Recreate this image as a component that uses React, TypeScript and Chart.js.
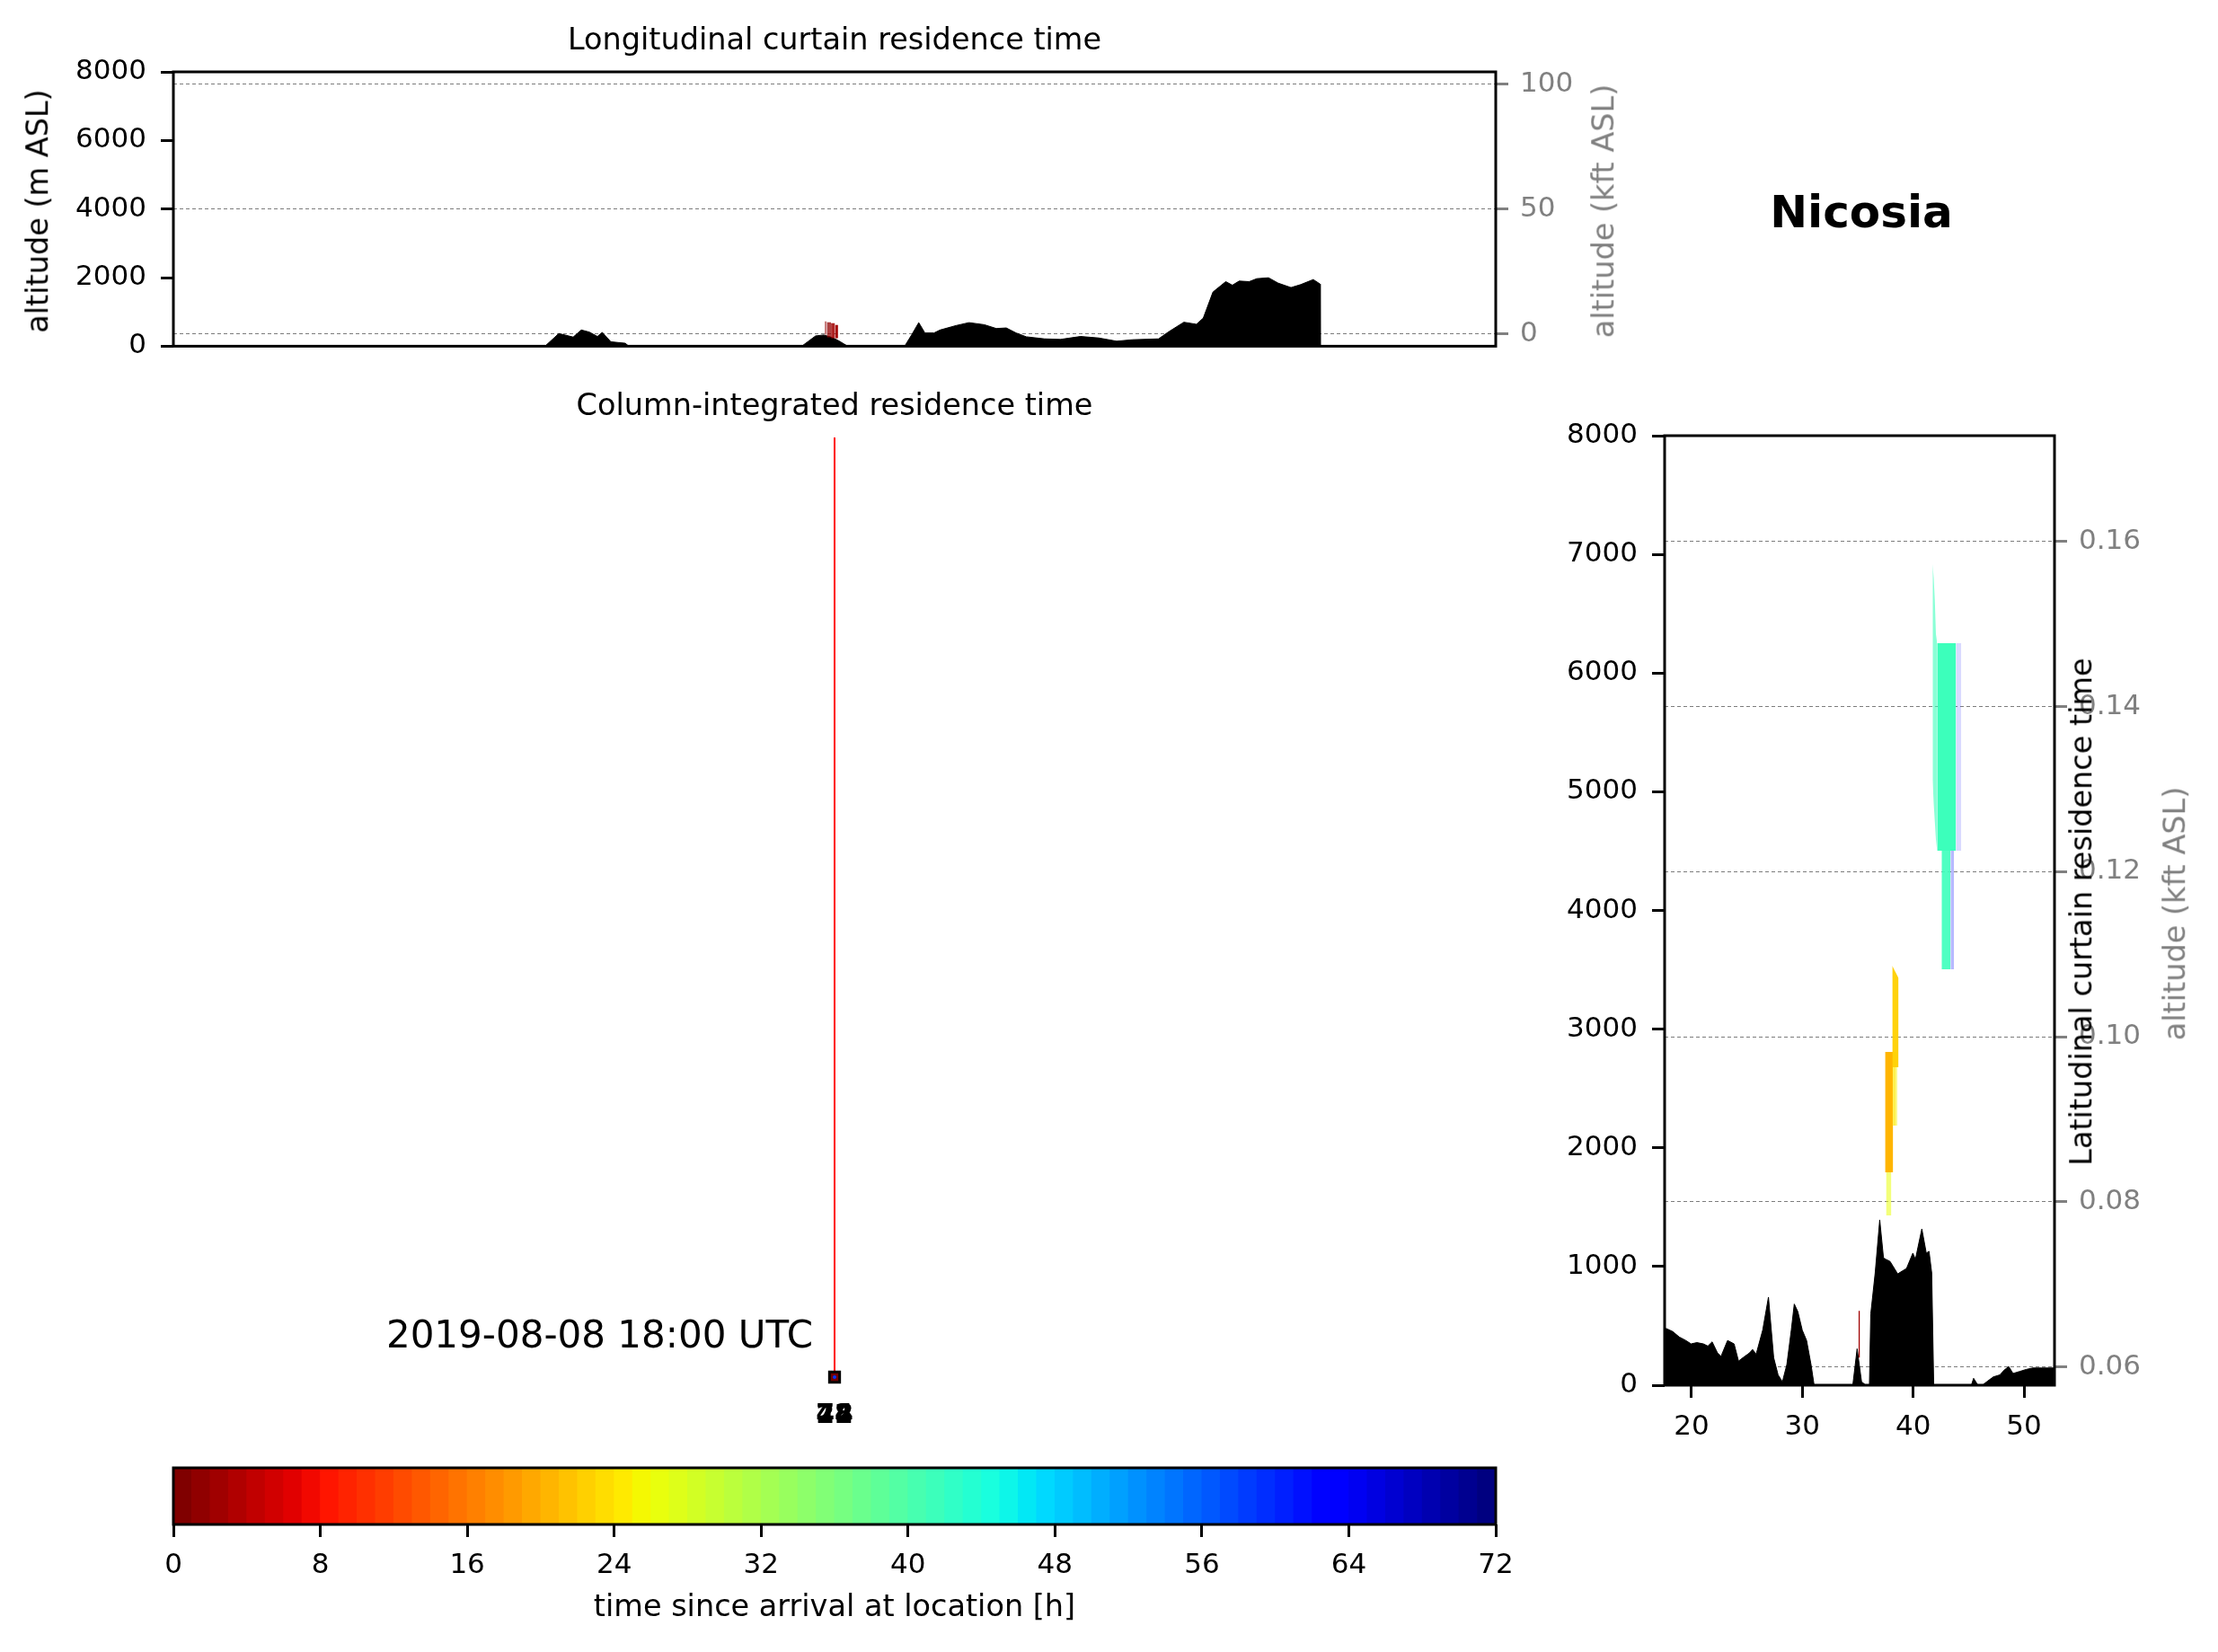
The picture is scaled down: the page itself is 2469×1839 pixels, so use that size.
import React, { useEffect, useRef } from 'react';
import { Chart, registerables } from 'chart.js';

Chart.register(...registerables);

const FONT = "'DejaVu Sans', 'Liberation Sans', sans-serif";
const GRAY = '#808080';
const TICK_FONT = { family: FONT, size: 31 };
const LABEL_SIZE = 33.5;

// ---------------- data ----------------
const RECEPTOR_NAME = 'Nicosia';
const RECEPTOR_LON = 33.36;
const RECEPTOR_LAT = 35.17;
const RELEASE_TIME = '2019-08-08 18:00 UTC';

const LON_RANGE = [3.36, 63.36];
const LAT_RANGE = [17.57, 52.75];
const ALT_RANGE_M = [0, 8000];
const LON_KFT_RANGE = [-5, 105];
const LAT_KFT_RANGE = [0.0578, 0.1728];
const MAP_LAT_RANGE = [34.7, 90];
const HOURS_RANGE = [0, 72];

// Longitudinal curtain terrain (lon, m ASL)
const TERRAIN_LON = [
  3.36, 20.22, 20.85, 21.5, 21.87, 22.23, 22.6, 22.82, 23.21, 23.86, 24.03,
  31.87, 32.5, 32.87, 33.24, 33.51, 33.96, 36.54, 36.87, 37.18, 37.46, 37.87,
  38.15, 38.87, 39.46, 40.15, 40.7, 41.15, 41.6, 42.06, 42.88, 43.6, 44.52,
  45.34, 46.16, 46.88, 48.06, 48.54, 49.21, 49.78, 50.09, 50.53, 51.11, 51.41,
  51.72, 52.17, 52.52, 53.05, 53.49, 54.07, 54.51, 55.08, 55.39, 55.4, 63.36,
];
const TERRAIN_LON_ALT = [
  0, 0, 370, 266, 473, 413, 284, 404, 129, 86, 0,
  0, 301, 327, 258, 172, 0, 0, 344, 688, 387, 387,
  473, 602, 688, 628, 516, 533, 387, 275, 215, 198, 284,
  241, 146, 189, 215, 430, 700, 640, 820, 1581, 1883, 1780,
  1900, 1883, 1970, 1996, 1840, 1710, 1797, 1944, 1814, 0, 0,
];

// Latitudinal curtain terrain (lat, m ASL)
const TERRAIN_LAT = [
  17.57, 17.78, 18.3, 18.89, 19.48, 19.96, 20.48, 21.07, 21.47, 21.86, 22.34,
  22.66, 23.25, 23.84, 24.24, 24.64, 25.23, 25.51, 25.83, 26.42, 26.94, 27.41,
  27.81, 28.2, 28.6, 29.0, 29.27, 29.59, 29.99, 30.38, 30.78, 31.06, 34.55,
  34.94, 35.34, 35.73, 36.05, 36.17, 36.57, 36.98, 37.32, 37.55, 37.91, 38.6,
  39.4, 39.97, 40.2, 40.78, 41.18, 41.43, 41.67, 41.85, 45.25, 45.45, 45.84,
  46.24, 46.63, 47.23, 47.82, 48.22, 48.62, 49.01, 49.61, 50.2, 50.8, 51.59, 52.75,
];
const TERRAIN_LAT_ALT = [
  480, 475, 452, 406, 377, 348, 359, 348, 330, 365, 272,
  243, 377, 348, 203, 232, 272, 301, 261, 464, 742, 232,
  87, 29, 174, 464, 684, 620, 464, 377, 174, 0, 0,
  307, 29, 0, 0, 600, 946, 1393, 1072, 1060, 1043, 938,
  984, 1113, 1060, 1317, 1113, 1128, 946, 0, 0, 58, 0,
  0, 29, 70, 87, 128, 157, 99, 116, 133, 145, 145, 145,
];

// Longitudinal curtain residence columns near the receptor
const LON_BAR_LEFT = [32.91, 33.01, 33.2, 33.38];
const LON_BAR_RIGHT = [33.01, 33.2, 33.38, 33.52];
const LON_BAR_BOTTOM = [335, 258, 232, 232];
const LON_BAR_TOP = [722, 697, 671, 619];
const LON_BAR_HOUR = [1, 1, 2, 2];

// Latitudinal curtain residence patches (latitude, bottom m, top m)
const LAT_SPIKE_LAT = [41.75, 41.85, 41.95, 42.05, 42.16];
const LAT_SPIKE_BOTTOM = [5100, 4900, 4750, 4600, 4504];
const LAT_SPIKE_TOP = [6918, 6800, 6615, 6330, 6252];
const LAT_UPPER_LAT = [42.16, 43.86];
const LAT_UPPER_BOTTOM = [4504, 4504];
const LAT_UPPER_TOP = [6252, 6252];
const LAT_UPPER_EDGE_LAT = [43.86, 44.34];
const LAT_UPPER_EDGE_BOTTOM = [4504, 4504];
const LAT_UPPER_EDGE_TOP = [6252, 6252];
const LAT_STEM_LAT = [42.56, 43.37];
const LAT_STEM_BOTTOM = [3504, 3504];
const LAT_STEM_TOP = [4504, 4504];
const LAT_STEM_EDGE_LAT = [43.37, 43.69];
const LAT_STEM_EDGE_BOTTOM = [3504, 3504];
const LAT_STEM_EDGE_TOP = [4504, 4504];
const LAT_GOLD_LAT = [38.11, 38.68];
const LAT_GOLD_BOTTOM = [2679, 2679];
const LAT_GOLD_TOP = [3535, 3429];
const LAT_GOLD_TAIL_LAT = [38.11, 38.45];
const LAT_GOLD_TAIL_BOTTOM = [2187, 2187];
const LAT_GOLD_TAIL_TOP = [2679, 2679];
const LAT_TRAIL_LAT = [38.19, 38.59];
const LAT_TRAIL_BOTTOM = [2187, 2187];
const LAT_TRAIL_TOP = [2808, 2808];
const LAT_ORANGE_LAT = [37.46, 38.19];
const LAT_ORANGE_BOTTOM = [1794, 1794];
const LAT_ORANGE_TOP = [2808, 2808];
const LAT_PALE_LAT = [37.55, 38.03];
const LAT_PALE_BOTTOM = [1430, 1430];
const LAT_PALE_TOP = [1794, 1794];
const LAT_RED_LAT = [35.06, 35.2];
const LAT_RED_BOTTOM = [232, 232];
const LAT_RED_TOP = [626, 626];

// Column-integrated map: trajectory from receptor
const TRAJ_LON = [33.36, 33.36];
const TRAJ_LAT = [35.17, 89.9];
const ARRIVAL_LABELS = ['24', '48', '72'];

// Colour bar steps (hours)
const COLORBAR_HOURS = [
  0, 1, 2, 3, 4, 5, 6, 7, 8, 9, 10, 11, 12, 13, 14, 15, 16, 17, 18, 19, 20, 21, 22, 23,
  24, 25, 26, 27, 28, 29, 30, 31, 32, 33, 34, 35, 36, 37, 38, 39, 40, 41, 42, 43, 44, 45, 46, 47,
  48, 49, 50, 51, 52, 53, 54, 55, 56, 57, 58, 59, 60, 61, 62, 63, 64, 65, 66, 67, 68, 69, 70, 71,
];

// ---------------- colours ----------------
const JET_RED = [[0, 0], [0.35, 0], [0.66, 1], [0.89, 1], [1, 0.5]];
const JET_GREEN = [[0, 0], [0.125, 0], [0.375, 1], [0.64, 1], [0.91, 0], [1, 0]];
const JET_BLUE = [[0, 0.5], [0.11, 1], [0.34, 1], [0.65, 0], [1, 0]];

function seg(s: number[][], t: number) {
  for (let i = 1; i < s.length; i++) {
    if (t <= s[i][0]) {
      const [x0, y0] = s[i - 1];
      const [x1, y1] = s[i];
      return y0 + ((y1 - y0) * (t - x0)) / (x1 - x0);
    }
  }
  return s[s.length - 1][1];
}

function hourColor(h: number, alpha = 1) {
  const u = 1 - Math.min(Math.max(h, 0), 71) / 71;
  const r = Math.round(255 * seg(JET_RED, u));
  const g = Math.round(255 * seg(JET_GREEN, u));
  const b = Math.round(255 * seg(JET_BLUE, u));
  return `rgba(${r},${g},${b},${alpha})`;
}

// ---------------- helpers ----------------
const framePlugin = {
  id: 'frame',
  afterDraw(chart: any, _args: any, opts: any) {
    if (!opts || !opts.show) return;
    const { ctx, chartArea: a } = chart;
    ctx.save();
    ctx.strokeStyle = '#000';
    ctx.lineWidth = 3;
    ctx.strokeRect(a.left, a.top, a.right - a.left, a.bottom - a.top);
    ctx.restore();
  },
};

const arrivalLabelPlugin = {
  id: 'arrivalLabels',
  afterDatasetsDraw(chart: any) {
    const { ctx, scales } = chart;
    const px = scales.x.getPixelForValue(RECEPTOR_LON);
    const py = scales.y.getPixelForValue(RECEPTOR_LAT) + 43;
    ctx.save();
    ctx.font = `bold 30px ${FONT}`;
    ctx.fillStyle = '#000';
    ctx.textAlign = 'center';
    ctx.textBaseline = 'middle';
    ARRIVAL_LABELS.forEach((t) => ctx.fillText(t, px, py));
    ctx.restore();
  },
};

function pts(xs: number[], ys: number[]) {
  return xs.map((x, i) => ({ x, y: ys[i] }));
}

function band(xs: number[], lo: number[], hi: number[], color: string) {
  return [
    { data: pts(xs, lo), borderColor: 'rgba(0,0,0,0)', borderWidth: 0, pointRadius: 0, fill: false, order: 0 },
    { data: pts(xs, hi), borderColor: 'rgba(0,0,0,0)', borderWidth: 0, pointRadius: 0, fill: '-1', backgroundColor: color, order: 0 },
  ];
}

function terrain(xs: number[], ys: number[]) {
  return {
    data: pts(xs, ys),
    borderColor: '#000',
    borderWidth: 1,
    backgroundColor: '#000',
    fill: 'origin',
    pointRadius: 0,
    order: 5,
  };
}

const baseOptions = {
  responsive: false,
  animation: false,
  devicePixelRatio: 1,
  events: [],
  elements: { line: { tension: 0 }, point: { radius: 0 } },
};

function leftAxis(min: number, max: number, step: number, width: number) {
  return {
    type: 'linear', position: 'left', min, max,
    afterFit: (s: any) => { s.width = width; },
    ticks: { stepSize: step, color: '#000', font: TICK_FONT, padding: 16, callback: (v: any) => String(Math.round(Number(v))) },
    grid: { drawOnChartArea: false, drawTicks: true, tickLength: 14, tickWidth: 3, tickColor: '#000' },
    border: { display: false },
  };
}

function rightGrayAxis(min: number, max: number, step: number, width: number, fmt: (v: number) => string) {
  return {
    type: 'linear', position: 'right', min, max,
    afterFit: (s: any) => { s.width = width; },
    ticks: { stepSize: step, includeBounds: false, color: GRAY, font: TICK_FONT, padding: 13, callback: (v: any) => fmt(Number(v)) },
    grid: {
      drawOnChartArea: true, color: 'rgba(110,110,110,0.9)', lineWidth: 1,
      drawTicks: true, tickLength: 14, tickWidth: 3, tickColor: GRAY, tickBorderDash: [],
    },
    border: { display: false, dash: [4, 3] },
  };
}

function Text(props: any) {
  const { x, y, text, size = LABEL_SIZE, color = '#000', rotate = false, bold = false, anchor = 'center' } = props;
  const tx = anchor === 'right' ? '-100%' : '-50%';
  return (
    <div
      style={{
        position: 'absolute', left: x, top: y, whiteSpace: 'nowrap', lineHeight: 1,
        fontFamily: FONT, fontSize: size, color, fontWeight: bold ? 'bold' : 'normal',
        transform: `translate(${tx},-50%)${rotate ? ' rotate(-90deg)' : ''}`,
      }}
    >
      {text}
    </div>
  );
}

export default function App() {
  const topRef = useRef<HTMLCanvasElement>(null);
  const midRef = useRef<HTMLCanvasElement>(null);
  const rightRef = useRef<HTMLCanvasElement>(null);
  const barRef = useRef<HTMLCanvasElement>(null);

  useEffect(() => {
    const charts: Chart[] = [];

    // ---- longitudinal curtain ----
    const lonBars: any[] = [];
    const lonAlpha = [0.5, 0.75, 0.85, 0.95];
    LON_BAR_LEFT.forEach((l, i) => {
      lonBars.push(
        ...band([l, LON_BAR_RIGHT[i]], [LON_BAR_BOTTOM[i], LON_BAR_BOTTOM[i]], [LON_BAR_TOP[i], LON_BAR_TOP[i]], hourColor(LON_BAR_HOUR[i], lonAlpha[i]))
      );
    });
    charts.push(
      new Chart(topRef.current as HTMLCanvasElement, {
        type: 'line',
        data: { datasets: [...lonBars, terrain(TERRAIN_LON, TERRAIN_LON_ALT)] as any },
        plugins: [framePlugin],
        options: {
          ...baseOptions,
          layout: { padding: { top: 80, bottom: 30, left: 0, right: 0 } },
          plugins: { legend: { display: false }, tooltip: { enabled: false }, frame: { show: true } } as any,
          scales: {
            x: { type: 'linear', min: LON_RANGE[0], max: LON_RANGE[1], display: false },
            y: leftAxis(ALT_RANGE_M[0], ALT_RANGE_M[1], 2000, 193),
            y1: rightGrayAxis(LON_KFT_RANGE[0], LON_KFT_RANGE[1], 50, 235, (v) => String(Math.round(v))),
          } as any,
        } as any,
      })
    );

    // ---- column-integrated map ----
    charts.push(
      new Chart(midRef.current as HTMLCanvasElement, {
        type: 'line',
        data: {
          datasets: [
            {
              data: [{ x: RECEPTOR_LON, y: RECEPTOR_LAT }],
              showLine: false, pointStyle: 'circle', pointRadius: 2,
              pointBackgroundColor: '#0033ff', pointBorderColor: '#0033ff', pointBorderWidth: 0,
            },
            {
              data: [{ x: RECEPTOR_LON, y: RECEPTOR_LAT }],
              showLine: false, pointStyle: 'rect', pointRadius: 8,
              pointBackgroundColor: '#700000', pointBorderColor: '#000', pointBorderWidth: 3,
            },
            { data: pts(TRAJ_LON, TRAJ_LAT), borderColor: '#ff0000', borderWidth: 2, pointRadius: 0, fill: false },
          ] as any,
        },
        plugins: [arrivalLabelPlugin],
        options: {
          ...baseOptions,
          layout: { padding: { top: 45, bottom: 98, left: 193, right: 235 } },
          plugins: { legend: { display: false }, tooltip: { enabled: false } },
          scales: {
            x: { type: 'linear', min: LON_RANGE[0], max: LON_RANGE[1], display: false },
            y: { type: 'linear', min: MAP_LAT_RANGE[0], max: MAP_LAT_RANGE[1], display: false },
          } as any,
        } as any,
      })
    );

    // ---- latitudinal curtain ----
    const patches = [
      ...band(LAT_SPIKE_LAT, LAT_SPIKE_BOTTOM, LAT_SPIKE_TOP, hourColor(41, 0.6)),
      ...band(LAT_UPPER_LAT, LAT_UPPER_BOTTOM, LAT_UPPER_TOP, hourColor(41, 1)),
      ...band(LAT_UPPER_EDGE_LAT, LAT_UPPER_EDGE_BOTTOM, LAT_UPPER_EDGE_TOP, hourColor(62, 0.15)),
      ...band(LAT_STEM_LAT, LAT_STEM_BOTTOM, LAT_STEM_TOP, hourColor(41, 0.9)),
      ...band(LAT_STEM_EDGE_LAT, LAT_STEM_EDGE_BOTTOM, LAT_STEM_EDGE_TOP, hourColor(62, 0.28)),
      ...band(LAT_GOLD_LAT, LAT_GOLD_BOTTOM, LAT_GOLD_TOP, hourColor(22, 0.95)),
      ...band(LAT_GOLD_TAIL_LAT, LAT_GOLD_TAIL_BOTTOM, LAT_GOLD_TAIL_TOP, hourColor(24, 0.5)),
      ...band(LAT_TRAIL_LAT, LAT_TRAIL_BOTTOM, LAT_TRAIL_TOP, hourColor(25, 0.4)),
      ...band(LAT_ORANGE_LAT, LAT_ORANGE_BOTTOM, LAT_ORANGE_TOP, hourColor(20, 1)),
      ...band(LAT_PALE_LAT, LAT_PALE_BOTTOM, LAT_PALE_TOP, hourColor(26, 0.55)),
      ...band(LAT_RED_LAT, LAT_RED_BOTTOM, LAT_RED_TOP, hourColor(2, 1)),
    ];
    charts.push(
      new Chart(rightRef.current as HTMLCanvasElement, {
        type: 'line',
        data: { datasets: [...patches, terrain(TERRAIN_LAT, TERRAIN_LAT_ALT)] as any },
        plugins: [framePlugin],
        options: {
          ...baseOptions,
          layout: { padding: { top: 45, bottom: 0, left: 0, right: 0 } },
          plugins: { legend: { display: false }, tooltip: { enabled: false }, frame: { show: true } } as any,
          scales: {
            x: {
              type: 'linear', position: 'bottom', min: LAT_RANGE[0], max: LAT_RANGE[1],
              afterFit: (s: any) => { s.height = 98; },
              ticks: { stepSize: 10, includeBounds: false, color: '#000', font: TICK_FONT, padding: 14 },
              grid: { drawOnChartArea: false, drawTicks: true, tickLength: 14, tickWidth: 3, tickColor: '#000' },
              border: { display: false },
            },
            y: leftAxis(ALT_RANGE_M[0], ALT_RANGE_M[1], 1000, 153),
            y1: rightGrayAxis(LAT_KFT_RANGE[0], LAT_KFT_RANGE[1], 0.02, 182, (v) => v.toFixed(2)),
          } as any,
        } as any,
      })
    );

    // ---- colour bar ----
    charts.push(
      new Chart(barRef.current as HTMLCanvasElement, {
        type: 'bar',
        data: {
          datasets: [
            {
              data: COLORBAR_HOURS.map((h) => ({ x: h + 0.5, y: 1 })),
              backgroundColor: COLORBAR_HOURS.map((h) => hourColor(h, 1)),
              borderWidth: 0,
              barPercentage: 1.04,
              categoryPercentage: 1,
            },
          ] as any,
        },
        plugins: [framePlugin],
        options: {
          ...baseOptions,
          layout: { padding: { top: 34, bottom: 0, left: 193, right: 235 } },
          plugins: { legend: { display: false }, tooltip: { enabled: false }, frame: { show: true } } as any,
          scales: {
            x: {
              type: 'linear', position: 'bottom', min: HOURS_RANGE[0], max: HOURS_RANGE[1], offset: false,
              afterFit: (s: any) => { s.height = 142; },
              ticks: { stepSize: 8, color: '#000', font: TICK_FONT, padding: 13, callback: (v: any) => String(Math.round(Number(v))) },
              grid: { offset: false, drawOnChartArea: false, drawTicks: true, tickLength: 14, tickWidth: 3, tickColor: '#000' },
              border: { display: false },
            },
            y: { type: 'linear', min: 0, max: 1, display: false },
          } as any,
        } as any,
      })
    );

    return () => charts.forEach((c) => c.destroy());
  }, []);

  const canvasStyle = (left: number, top: number, w: number, h: number) => ({
    position: 'absolute' as const, left, top, width: w, height: h,
  });

  return (
    <div style={{ position: 'absolute', left: 0, top: 0, width: 2469, height: 1839, background: '#fff', overflow: 'hidden' }}>
      <canvas ref={topRef} width={1900} height={420} style={canvasStyle(0, 0, 1900, 420)} />
      <canvas ref={midRef} width={1900} height={1200} style={canvasStyle(0, 440, 1900, 1200)} />
      <canvas ref={rightRef} width={769} height={1200} style={canvasStyle(1700, 440, 769, 1200)} />
      <canvas ref={barRef} width={1900} height={239} style={canvasStyle(0, 1600, 1900, 239)} />

      <Text x={929} y={44} text="Longitudinal curtain residence time" />
      <Text x={42} y={235} text="altitude (m ASL)" rotate />
      <Text x={1785} y={235} text="altitude (kft ASL)" rotate color={GRAY} />
      <Text x={2072} y={236} text={RECEPTOR_NAME} size={50} bold />
      <Text x={929} y={451} text="Column-integrated residence time" />
      <Text x={905} y={1486} text={RELEASE_TIME} size={42} anchor="right" />
      <Text x={2317} y={1015} text="Latitudinal curtain residence time" size={LABEL_SIZE} rotate />
      <Text x={2421} y={1017} text="altitude (kft ASL)" rotate color={GRAY} />
      <Text x={929} y={1788} text="time since arrival at location [h]" />
    </div>
  );
}
